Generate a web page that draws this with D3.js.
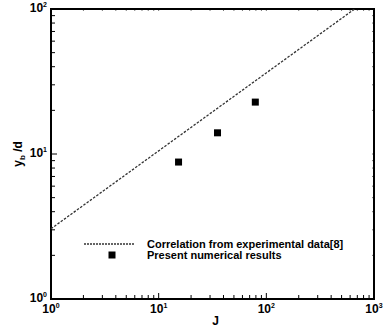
<!DOCTYPE html>
<html>
<head>
<meta charset="utf-8">
<script src="https://cdn.jsdelivr.net/npm/d3@7"></script>
<style>
  body { margin: 0; background: #fff; }
  svg { font-family: Arial, "Liberation Sans", sans-serif; font-weight: bold; }
</style>
</head>
<body>
<svg id="chart" width="384" height="330"></svg>
<script>
// correlation line (straight in log-log), endpoints
const corrJ = [1, 660]
const corrY = [3.05, 100]
// present numerical results
const simJ = [15.3, 35.2, 79]
const simY = [8.8, 14, 22.8]
const xDecades = [1, 10, 100, 1000]
const yDecades = [1, 10, 100]
const legendLabels = ['Correlation from experimental data[8]', 'Present numerical results']

const svg = d3.select('#chart')
const pLeft = 51, pRight = 374, pTop = 9, pBottom = 299

const x = d3.scaleLog().domain([1, 1000]).range([pLeft, pRight])
const y = d3.scaleLog().domain([1, 100]).range([pBottom, pTop])

// all ticks, majors and minors, from the scale
const xTicks = x.ticks()
const yTicks = y.ticks()
const isMajor = v => Math.abs(Math.log10(v) - Math.round(Math.log10(v))) < 1e-9

const g = svg.append('g')

// bottom ticks (inward)
g.selectAll('.xt').data(xTicks).enter().append('line')
    .attr('x1', d => x(d)).attr('x2', d => x(d))
    .attr('y1', pBottom).attr('y2', d => pBottom - (isMajor(d) ? 6 : 4))
    .attr('stroke', '#000').attr('stroke-width', 1)
// top ticks (tiny)
g.selectAll('.xtt').data(xTicks).enter().append('line')
    .attr('x1', d => x(d)).attr('x2', d => x(d))
    .attr('y1', pTop).attr('y2', pTop + 2)
    .attr('stroke', '#777').attr('stroke-width', 1)
// left ticks
g.selectAll('.yt').data(yTicks).enter().append('line')
    .attr('y1', d => y(d)).attr('y2', d => y(d))
    .attr('x1', pLeft).attr('x2', d => pLeft + (isMajor(d) ? 6 : 4))
    .attr('stroke', '#000').attr('stroke-width', 1)
// right ticks (tiny)
g.selectAll('.ytr').data(yTicks).enter().append('line')
    .attr('y1', d => y(d)).attr('y2', d => y(d))
    .attr('x1', pRight).attr('x2', pRight - 2)
    .attr('stroke', '#777').attr('stroke-width', 1)

// frame
g.append('rect')
    .attr('x', pLeft).attr('y', pTop)
    .attr('width', pRight - pLeft).attr('height', pBottom - pTop)
    .attr('fill', 'none').attr('stroke', '#000').attr('stroke-width', 2)

// tick labels
const xl = g.selectAll('.xl').data(xDecades).enter().append('text')
    .attr('x', d => x(d)).attr('y', pBottom + 14)
    .attr('text-anchor', 'middle').attr('font-size', 12)
xl.append('tspan').text('10')
xl.append('tspan').attr('font-size', 7).attr('dy', -5).text(d => Math.round(Math.log10(d)))

const yl = g.selectAll('.yl').data(yDecades).enter().append('text')
    .attr('x', pLeft - 4).attr('y', d => y(d) + 3)
    .attr('text-anchor', 'end').attr('font-size', 12)
yl.append('tspan').text('10')
yl.append('tspan').attr('font-size', 7).attr('dy', -5).text(d => Math.round(Math.log10(d)))

// axis titles
g.append('text').attr('x', (pLeft + pRight) / 2 + 3).attr('y', 325)
    .attr('text-anchor', 'middle').attr('font-size', 12).text('J')
const yt = g.append('text')
    .attr('transform', `translate(22,${(pTop + pBottom) / 2}) rotate(-90)`)
    .attr('text-anchor', 'middle').attr('font-size', 12)
yt.append('tspan').text('y')
yt.append('tspan').attr('font-size', 8).attr('dy', 3).text('b')
yt.append('tspan').attr('dy', -3).text(' /d')

// correlation line
const corr = corrJ.map((j, i) => [j, corrY[i]])
g.append('path')
    .attr('d', d3.line().x(d => x(d[0])).y(d => y(d[1]))(corr))
    .attr('fill', 'none').attr('stroke', '#333').attr('stroke-width', 1.3)
    .attr('stroke-dasharray', '2.5,1.5')

// squares
const sim = simJ.map((j, i) => [j, simY[i]])
g.selectAll('.sq').data(sim).enter().append('rect')
    .attr('x', d => x(d[0]) - 3.5).attr('y', d => y(d[1]) - 3.5)
    .attr('width', 7).attr('height', 7).attr('fill', '#000')

// legend
const lg = g.append('g')
lg.append('line').attr('x1', 84).attr('x2', 135).attr('y1', 244).attr('y2', 244)
    .attr('stroke', '#333').attr('stroke-width', 1.3).attr('stroke-dasharray', '2,1')
lg.append('rect').attr('x', 108.5).attr('y', 251.5).attr('width', 7).attr('height', 7).attr('fill', '#000')
lg.selectAll('text').data(legendLabels).enter().append('text')
    .attr('x', 147).attr('y', (d, i) => 248 + i * 11)
    .attr('font-size', 11).text(d => d)
</script>
</body>
</html>
